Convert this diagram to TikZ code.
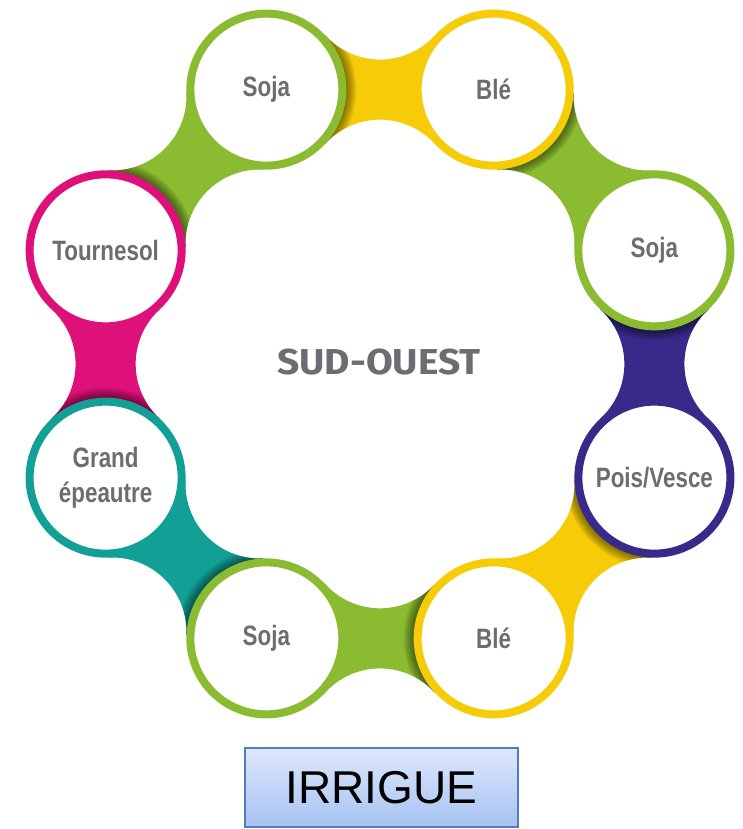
\documentclass[tikz,border=0pt]{standalone}
\usepackage{fontspec}
\usetikzlibrary{calc}
\newfontfamily\cropfont{Liberation Sans}[FakeStretch=0.8]
\newfontfamily\regionfont{Fira Sans}[FakeStretch=1.08]
\newfontfamily\boxfont{Liberation Sans}

\definecolor{cgreen}{RGB}{138,187,48}
\definecolor{cyellow}{RGB}{246,204,8}
\definecolor{cpurple}{RGB}{55,42,138}
\definecolor{cmagenta}{RGB}{222,16,122}
\definecolor{cteal}{RGB}{18,160,150}
\definecolor{ctext}{RGB}{108,108,114}
\definecolor{boxtop}{RGB}{222,232,252}
\definecolor{boxbot}{RGB}{166,194,242}
\definecolor{boxline}{RGB}{79,125,192}

% waisted link between two neighbouring crop circles (local frame: from #1 along +x to #2)
\newcommand\bridgeshape[2]{(59.0,54.1) arc[start angle=222.5,end angle=317.5,radius=74.2]
  -- (#2) -- (168.3,-54.1) arc[start angle=42.5,end angle=137.5,radius=74.2] -- (#1) -- cycle}
% #1 from, #2 to, #3 direction, #4 colour
\newcommand\cropbridge[4]{%
  \begin{scope}[shift={(#1)},rotate=#3]
    \fill[#4] \bridgeshape{#1}{#2};
    \begin{scope}
      \clip \bridgeshape{#1}{#2};
      \foreach \k in {0,...,10}
        \fill[black,opacity=0.05] (#1) circle[radius={(80+\k)*1pt}];
    \end{scope}
  \end{scope}}

\begin{document}
\begin{tikzpicture}[x=1pt,y=1pt,
  crop/.style={circle,draw=#1,line width=8pt,fill=white,minimum size=152pt,inner sep=0pt,
    font=\cropfont\bfseries\fontsize{28}{35}\selectfont,text=ctext,align=center},
  region/.style={font=\regionfont\bfseries\fontsize{36}{40}\selectfont,text=ctext},
  tag/.style={draw=boxline,line width=1.2pt,top color=boxtop,bottom color=boxbot,
    minimum width=273pt,minimum height=79pt,inner sep=0pt,
    font=\boxfont\fontsize{46}{50}\selectfont,text=black}]
\useasboundingbox (0,0) rectangle (742,829);
\coordinate (O) at (380,465);

% ring positions, clockwise from the top left
\coordinate (c1) at ($(O)+(112.5:297)$);
\coordinate (c2) at ($(O)+(67.5:297)$);
\coordinate (c3) at ($(O)+(22.5:297)$);
\coordinate (c4) at ($(O)+(-22.5:297)$);
\coordinate (c5) at ($(O)+(-67.5:297)$);
\coordinate (c6) at ($(O)+(-112.5:297)$);
\coordinate (c7) at ($(O)+(-157.5:297)$);
\coordinate (c8) at ($(O)+(157.5:297)$);

% links, coloured like the following crop
\cropbridge{c1}{c2}{0}{cyellow}
\cropbridge{c2}{c3}{-45}{cgreen}
\cropbridge{c3}{c4}{-90}{cpurple}
\cropbridge{c4}{c5}{-135}{cyellow}
\cropbridge{c5}{c6}{-180}{cgreen}
\cropbridge{c6}{c7}{-225}{cteal}
\cropbridge{c7}{c8}{-270}{cmagenta}
\cropbridge{c8}{c1}{45}{cgreen}

% crops
\node[crop=cgreen]   (soja1) at (c1) {Soja};
\node[crop=cyellow]  (ble1)  at (c2) {Blé};
\node[crop=cgreen]   (soja2) at (c3) {Soja};
\node[crop=cpurple]  (pois)  at (c4) {Pois/Vesce};
\node[crop=cyellow]  (ble2)  at (c5) {Blé};
\node[crop=cgreen]   (soja3) at (c6) {Soja};
\node[crop=cteal]    (grand) at (c7) {Grand\\épeautre};
\node[crop=cmagenta] (tourn) at (c8) {Tournesol};

\node[region] (sudouest) at (379,467) {SUD-OUEST};
\node[tag] (irrigue) at (381.5,41.5) {IRRIGUE};
\end{tikzpicture}
\end{document}
